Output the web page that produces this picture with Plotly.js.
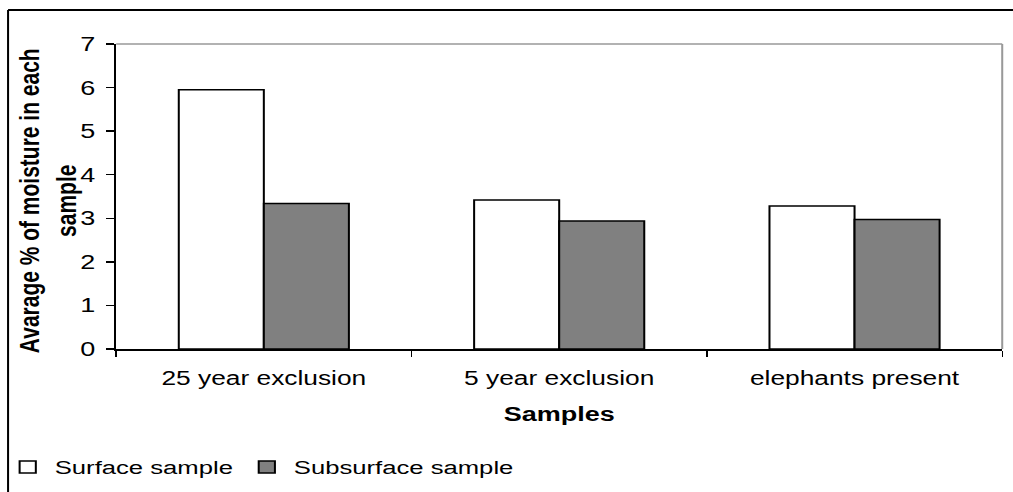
<!DOCTYPE html>
<html>
<head>
<meta charset="utf-8">
<script src="https://cdn.plot.ly/plotly-3.0.1.min.js"></script>
<style>
  html, body { margin: 0; padding: 0; background: #fff; overflow: hidden; }
  #wrap { width: 1013px; height: 492px; overflow: hidden; position: relative; }
  #chart { width: 750px; height: 492px; transform: scaleX(1.3507); transform-origin: 0 0; }
</style>
</head>
<body>
<div id="wrap"><div id="chart"></div></div>
<script>
const categories = ["25 year exclusion", "5 year exclusion", "elephants present"];
const surfaceValues = [5.95, 3.42, 3.28];
const subsurfaceValues = [3.34, 2.94, 2.97];
const seriesNames = ["Surface sample", "Subsurface sample"];
const yTicks = [0, 1, 2, 3, 4, 5, 6, 7];
const xTitle = "Samples";
const yTitle = "Avarage % of moisture in each<br>sample";

const FONT = "Liberation Sans, Arial, sans-serif";

const traces = [
  {
    type: "bar", name: seriesNames[0], x: categories, y: surfaceValues,
    marker: { color: "#ffffff", line: { color: "#000000", width: 1.5 } },
    hoverinfo: "x+y"
  },
  {
    type: "bar", name: seriesNames[1], x: categories, y: subsurfaceValues,
    marker: { color: "#808080", line: { color: "#000000", width: 1.5 } },
    hoverinfo: "x+y"
  }
];

const layout = {
  width: 750, height: 492,
  margin: { l: 86, r: 8, t: 44, b: 143, pad: 0, autoexpand: false },
  paper_bgcolor: "#ffffff", plot_bgcolor: "#ffffff",
  font: { family: FONT, color: "#000000", size: 18 },
  barmode: "group", bargap: 0.424, bargroupgap: 0,
  showlegend: true,
  legend: {
    orientation: "h", x: -0.1303, xanchor: "left", y: -0.387, yanchor: "middle",
    font: { family: FONT, size: 19, color: "#000" }, bgcolor: "rgba(0,0,0,0)",
    traceorder: "normal", itemwidth: 30
  },
  xaxis: {
    type: "category", showgrid: false, zeroline: false, automargin: false,
    showline: true, linecolor: "#000", linewidth: 1.5,
    ticks: "outside", tickson: "boundaries", ticklen: 6, tickcolor: "#000", tickwidth: 1,
    tickfont: { family: FONT, size: 19.5, color: "#000" },
    ticklabelstandoff: 11
  },
  yaxis: {
    range: [0, 7], tickvals: yTicks, ticktext: yTicks.map(String),
    showgrid: false, zeroline: false, automargin: false,
    showline: true, linecolor: "#000", linewidth: 1.5,
    ticks: "outside", ticklen: 6, tickcolor: "#000", tickwidth: 1.5,
    tickfont: { family: FONT, size: 20, color: "#000" },
    ticklabelstandoff: 4
  },
  annotations: [
    { text: "<b>" + xTitle + "</b>", xref: "paper", yref: "paper", x: 0.5, y: -0.214,
      xanchor: "center", yanchor: "middle", showarrow: false,
      font: { family: FONT, size: 20, color: "#000" } },
    { text: "<b>" + yTitle + "</b>", xref: "paper", yref: "paper", x: -0.0775, y: 0.485,
      xanchor: "center", yanchor: "middle", showarrow: false, textangle: -90,
      font: { family: FONT, size: 21, color: "#000" } }
  ],
  shapes: [
    { type: "line", xref: "paper", yref: "paper", x0: 0, x1: 1, y0: 1, y1: 1,
      line: { color: "#999999", width: 1.5 } },
    { type: "line", xref: "paper", yref: "paper", x0: 1, x1: 1, y0: 0, y1: 1,
      line: { color: "#999999", width: 1.5 } },
    { type: "line", xref: "paper", yref: "paper", x0: -0.122, x1: 1.3, y0: 1.1115, y1: 1.1115,
      line: { color: "#000000", width: 2 } },
    { type: "line", xref: "paper", yref: "paper", x0: -0.122, x1: -0.122, y0: 1.1115, y1: -1.0,
      line: { color: "#000000", width: 1.5 } }
  ]
};

Plotly.newPlot("chart", traces, layout, { displayModeBar: false, staticPlot: true });
</script>
</body>
</html>
